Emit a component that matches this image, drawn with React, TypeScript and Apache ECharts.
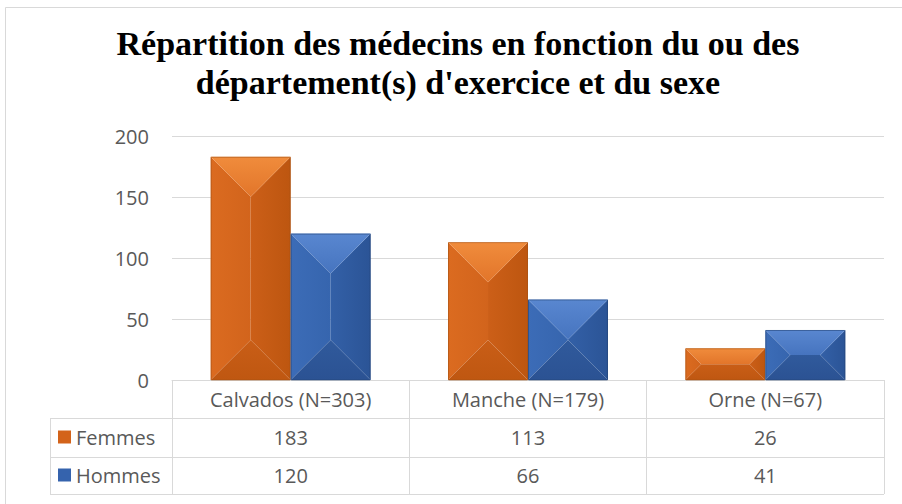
import React, { useEffect, useRef } from "react";
import * as echarts from "echarts";

const categories = ["Calvados (N=303)", "Manche (N=179)", "Orne (N=67)"];
const femmes = [183, 113, 26];
const hommes = [120, 66, 41];
const seriesNames = ["Femmes", "Hommes"];
const yTicks = { min: 0, max: 200, interval: 50 };
const titleText =
  "Répartition des médecins en fonction du ou des\ndépartement(s) d'exercice et du sexe";

const FONT = "'Open Sans', 'Noto Sans', sans-serif";
const GRID_L = 172;
const GRID_R = 884;
const GRID_T = 136;
const GRID_B = 380;
const LINE = "#d9d9d9";
const TXT = "#595959";

const palettes = [
  {
    base: "#d3631a",
    top: ["#f08c3c", "#e2752a"],
    left: ["#db6b20", "#d2641c"],
    right: ["#cc5f18", "#bd5610"],
    bottom: ["#c95e17", "#bf5711"],
    edge: "rgba(160,80,20,0.55)",
  },
  {
    base: "#3563ad",
    top: ["#5987d0", "#4674bf"],
    left: ["#3c6cb7", "#3665ae"],
    right: ["#3360a7", "#2b5496"],
    bottom: ["#305a9c", "#2b5293"],
    edge: "rgba(35,65,115,0.55)",
  },
];

function lg(x2: number, y2: number, c: string[]) {
  return new echarts.graphic.LinearGradient(0, 0, x2, y2, [
    { offset: 0, color: c[0] },
    { offset: 1, color: c[1] },
  ]);
}

function makeRender(si: number) {
  const p = palettes[si];
  return (params: any, api: any) => {
    const cat = api.value(0);
    const val = api.value(1);
    const base = api.coord([cat, 0]);
    const top = api.coord([cat, val]);
    const band = api.size([1, 0])[0];
    const w = band * 0.337;
    const x0 = si === 0 ? base[0] - w : base[0];
    const x1 = x0 + w;
    const y0 = top[1];
    const y1 = base[1];
    const h = y1 - y0;
    const d = Math.min(w / 2, h / 2);
    const children: any[] = [
      {
        type: "polygon",
        shape: { points: [[x0, y0], [x0 + d, y0 + d], [x0 + d, y1 - d], [x0, y1]] },
        style: { fill: lg(1, 0, p.left) },
      },
      {
        type: "polygon",
        shape: { points: [[x1, y0], [x1 - d, y0 + d], [x1 - d, y1 - d], [x1, y1]] },
        style: { fill: lg(1, 0, p.right) },
      },
      {
        type: "polygon",
        shape: { points: [[x0, y0], [x1, y0], [x1 - d, y0 + d], [x0 + d, y0 + d]] },
        style: { fill: lg(0, 1, p.top) },
      },
      {
        type: "polygon",
        shape: { points: [[x0, y1], [x1, y1], [x1 - d, y1 - d], [x0 + d, y1 - d]] },
        style: { fill: lg(0, 1, p.bottom) },
      },
      {
        type: "rect",
        shape: { x: x0 + 0.5, y: y0 + 0.5, width: w - 1, height: h - 0.5 },
        style: { fill: "none", stroke: p.edge, lineWidth: 1 },
      },
    ];
    return { type: "group", children };
  };
}

export default function App() {
  const ref = useRef<HTMLDivElement>(null);
  useEffect(() => {
    if (!ref.current) return;
    const chart = echarts.init(ref.current, null, { renderer: "svg" });
    const rowLines = [418.5, 457.5, 494.5];
    const graphics: any[] = [
      {
        type: "rect",
        shape: { x: 5.5, y: 7.5, width: 900, height: 500 },
        style: { fill: "none", stroke: LINE, lineWidth: 1 },
        silent: true,
      },
      ...rowLines.map((y) => ({
        type: "line",
        shape: { x1: 50, y1: y, x2: GRID_R, y2: y },
        style: { stroke: LINE, lineWidth: 1 },
        silent: true,
      })),
      {
        type: "line",
        shape: { x1: 50.5, y1: 418, x2: 50.5, y2: 495 },
        style: { stroke: LINE, lineWidth: 1 },
        silent: true,
      },
    ];
    const labelStyle = {
      color: TXT,
      fontSize: 20,
      fontFamily: FONT,
      lineHeight: 20,
    };
    chart.setOption({
      animation: false,
      title: {
        text: titleText,
        left: 458,
        top: 24,
        padding: 0,
        textAlign: "center",
        textStyle: {
          fontFamily: "'Liberation Serif', serif",
          fontWeight: "bold",
          fontSize: 34,
          lineHeight: 39,
          color: "#000000",
        },
      },
      legend: {
        data: seriesNames,
        orient: "vertical",
        left: 58,
        top: 427,
        padding: 0,
        itemGap: 18,
        itemWidth: 13,
        itemHeight: 13,
        icon: "rect",
        selectedMode: false,
        textStyle: { ...labelStyle },
      },
      grid: {
        left: GRID_L,
        right: 902 - GRID_R,
        top: GRID_T,
        bottom: 504 - GRID_B,
        containLabel: false,
      },
      xAxis: [
        {
          type: "category",
          data: categories,
          axisLine: { show: true, lineStyle: { color: LINE, width: 1 } },
          axisTick: { show: true, length: 114, lineStyle: { color: LINE, width: 1 } },
          axisLabel: { ...labelStyle, margin: 9 },
        },
        {
          type: "category",
          position: "bottom",
          offset: 38,
          data: femmes.map(String),
          axisLine: { show: false },
          axisTick: { show: false },
          axisLabel: { ...labelStyle, margin: 9 },
        },
        {
          type: "category",
          position: "bottom",
          offset: 77,
          data: hommes.map(String),
          axisLine: { show: false },
          axisTick: { show: false },
          axisLabel: { ...labelStyle, margin: 8 },
        },
      ],
      yAxis: {
        type: "value",
        min: yTicks.min,
        max: yTicks.max,
        interval: yTicks.interval,
        axisLine: { show: false },
        axisTick: { show: false },
        splitLine: { lineStyle: { color: LINE, width: 1 } },
        axisLabel: { ...labelStyle, margin: 23 },
      },
      graphic: graphics,
      series: [femmes, hommes].map((vals, si) => ({
        name: seriesNames[si],
        type: "custom",
        xAxisIndex: 0,
        yAxisIndex: 0,
        itemStyle: { color: palettes[si].base },
        encode: { x: 0, y: 1 },
        data: vals.map((v, i) => [i, v]),
        renderItem: makeRender(si),
      })),
    });
    return () => chart.dispose();
  }, []);
  return (
    <div
      ref={ref}
      style={{ position: "fixed", left: 0, top: 0, width: 902, height: 504, background: "#fff" }}
    />
  );
}
